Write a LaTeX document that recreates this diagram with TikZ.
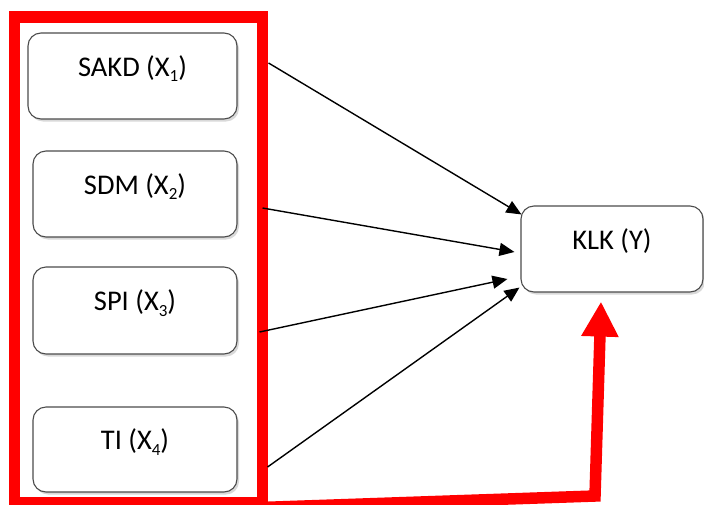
\documentclass[tikz,border=0pt]{standalone}
\usepackage{fontspec}
\setmainfont{Carlito}
\usetikzlibrary{arrows.meta,shadows}
\newcommand\sbs[1]{\raisebox{-0.2em}{\fontsize{17}{17}\selectfont #1}}
\tikzset{
  varbox/.style={draw=black!70, line width=1.1pt, rounded corners=13pt, fill=white,
    minimum height=86pt, inner sep=0pt,
    font=\fontsize{28.5}{34}\selectfont, text height=14pt, text depth=14pt,
    drop shadow={shadow xshift=2pt, shadow yshift=-2.5pt, opacity=0.25, fill=black!60}},
  frame/.style={draw=red, line width=11.5pt, inner sep=0pt},
  link/.style={line width=1.4pt, -{Triangle[length=15pt, width=13pt]}},
  redlink/.style={draw=red, line width=11.5pt, line join=miter,
    -{Triangle[length=35pt, width=35pt]}}
}
\begin{document}
\begin{tikzpicture}[x=1pt, y=-1pt]
\useasboundingbox (0,0) rectangle (704,504);

% highlighted group of independent variables
\node[frame, minimum width=248pt, minimum height=486pt] (grp) at (138.5,260) {};

% variable boxes
\node[varbox, minimum width=209pt] (sakd) at (132.5,76)  {SAKD (X\sbs{1})};
\node[varbox, minimum width=204pt] (sdm)  at (135,194)   {SDM (X\sbs{2})};
\node[varbox, minimum width=204pt, minimum height=87pt] (spi) at (135,310.5) {SPI (X\sbs{3})};
\node[varbox, minimum width=204pt, minimum height=85pt] (ti)  at (135,449.5) {TI (X\sbs{4})};
\node[varbox, minimum width=182pt] (klk)  at (612,249)   {KLK (Y)};

% individual effects
\draw[link] ([shift={(31,-13)}]sakd.east) -- ([shift={(1,9)}]klk.north west);
\draw[link] ([shift={(25,14)}]sdm.east)   -- ([shift={(-6,3)}]klk.west);
\draw[link] ([shift={(22,21.5)}]spi.east) -- ([shift={(-13,30)}]klk.west);
\draw[link] ([shift={(30,17.5)}]ti.east)  -- ([shift={(-1,-5)}]klk.south west);

% joint effect
\coordinate (bend) at (595,496);
\draw[redlink] ([yshift=1.5pt]grp.south east) -- (bend) -- ([shift={(-11,9)}]klk.south);
\end{tikzpicture}
\end{document}
